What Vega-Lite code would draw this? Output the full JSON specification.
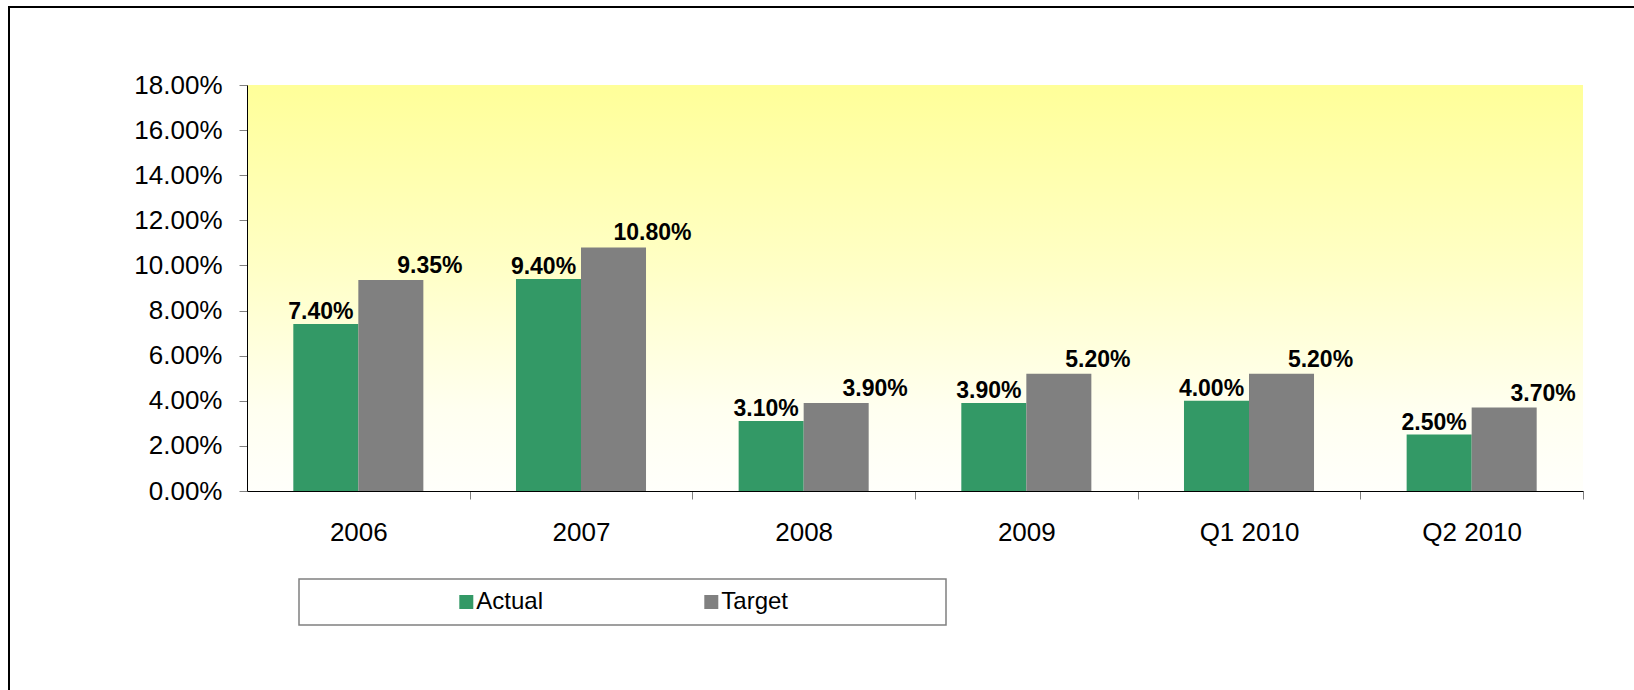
{
  "$schema": "https://vega.github.io/schema/vega-lite/v6.json",
  "width": 1635,
  "height": 693,
  "autosize": {"type": "none"},
  "padding": {"left": 9, "top": 7, "right": -10, "bottom": -10},
  "background": "white",
  "config": {
    "view": {"stroke": "black", "strokeWidth": 2, "fill": "white"},
    "font": "Liberation Sans",
    "legend": {"strokeColor": "#808080", "strokeWidth": 1.5, "fillColor": "white", "padding": 11}
  },
  "data": {
    "values": [
      {"period": "2006", "series": "Actual", "value": 0.074},
      {"period": "2006", "series": "Target", "value": 0.0935},
      {"period": "2007", "series": "Actual", "value": 0.094},
      {"period": "2007", "series": "Target", "value": 0.108},
      {"period": "2008", "series": "Actual", "value": 0.031},
      {"period": "2008", "series": "Target", "value": 0.039},
      {"period": "2009", "series": "Actual", "value": 0.039},
      {"period": "2009", "series": "Target", "value": 0.052},
      {"period": "Q1 2010", "series": "Actual", "value": 0.04},
      {"period": "Q1 2010", "series": "Target", "value": 0.052},
      {"period": "Q2 2010", "series": "Actual", "value": 0.025},
      {"period": "Q2 2010", "series": "Target", "value": 0.037}
    ]
  },
  "layer": [
    {
      "data": {"values": [{}]},
      "mark": {
        "type": "rect",
        "color": {
          "gradient": "linear",
          "x1": 0, "y1": 0, "x2": 0, "y2": 1,
          "stops": [
            {"offset": 0, "color": "#FFFF99"},
            {"offset": 0.45, "color": "#FFFFC6"},
            {"offset": 0.8, "color": "#FFFFF0"},
            {"offset": 1, "color": "#FFFFFB"}
          ]
        }
      },
      "encoding": {
        "x": {"datum": 0, "type": "quantitative", "scale": {"domain": [0, 1], "range": [238, 1574]}, "axis": null},
        "x2": {"datum": 1},
        "y": {"datum": 0, "type": "quantitative"},
        "y2": {"datum": 0.18}
      }
    },
    {
      "encoding": {
        "x": {
          "field": "period",
          "type": "nominal",
          "sort": ["2006", "2007", "2008", "2009", "Q1 2010", "Q2 2010"],
          "scale": {"range": [238, 1574], "paddingInner": 0.416, "paddingOuter": 0.208},
          "axis": {
            "title": null,
            "orient": "bottom",
            "offset": -209,
            "bandPosition": 1,
            "tickOffset": 46.3,
            "labelOffset": -46.3,
            "tickSize": 8,
            "tickColor": "#808080",
            "domainColor": "black",
            "labelFont": "Liberation Sans",
            "labelFontSize": 26,
            "labelColor": "black",
            "labelPadding": 20,
            "labelAngle": 0,
            "grid": false,
            "zindex": 1
          }
        },
        "xOffset": {"field": "series", "type": "nominal", "scale": {"domain": ["Actual", "Target"]}},
        "y": {
          "field": "value",
          "type": "quantitative",
          "scale": {"domain": [0, 0.18], "range": [484, 78], "nice": false},
          "axis": {
            "title": null,
            "offset": -238,
            "values": [0, 0.02, 0.04, 0.06, 0.08, 0.1, 0.12, 0.14, 0.16, 0.18],
            "format": ".2%",
            "tickSize": 8,
            "tickColor": "#808080",
            "domainColor": "black",
            "labelFont": "Liberation Sans",
            "labelFontSize": 26,
            "labelColor": "black",
            "labelPadding": 17,
            "grid": false,
            "zindex": 1
          }
        }
      },
      "layer": [
        {
          "mark": {"type": "bar"},
          "encoding": {
            "color": {
              "field": "series",
              "type": "nominal",
              "scale": {"domain": ["Actual", "Target"], "range": ["#339966", "#808080"]},
              "legend": {
                "orient": "none",
                "legendX": 290,
                "legendY": 572,
                "direction": "horizontal",
                "title": null,
                "symbolType": "square",
                "symbolSize": 196,
                "symbolStrokeWidth": 0,
                "symbolOffset": 144.3,
                "labelOffset": -2,
                "columnPadding": 11,
                "labelFont": "Liberation Sans",
                "labelFontSize": 24,
                "labelColor": "black",
                "labelLimit": 500,
                "labelExpr": "datum.label === 'Target' ? 'Target\u00a0\u00a0\u00a0\u00a0\u00a0\u00a0\u00a0\u00a0\u00a0\u00a0\u00a0\u00a0\u00a0\u00a0\u00a0\u00a0\u00a0\u00a0\u00a0\u00a0\u00a0\u00a0\u200b' : datum.label"
              }
            }
          }
        },
        {
          "transform": [{"filter": "datum.series === 'Actual'"}],
          "mark": {"type": "text", "font": "Liberation Sans", "fontSize": 23, "fontWeight": "bold", "baseline": "alphabetic", "dx": -5, "dy": -5, "color": "black"},
          "encoding": {"text": {"field": "value", "type": "quantitative", "format": ".2%"}}
        },
        {
          "transform": [{"filter": "datum.series === 'Target'"}],
          "mark": {"type": "text", "font": "Liberation Sans", "fontSize": 23, "fontWeight": "bold", "baseline": "alphabetic", "dx": 39, "dy": -7, "color": "black"},
          "encoding": {"text": {"field": "value", "type": "quantitative", "format": ".2%"}}
        }
      ]
    }
  ],
  "resolve": {"scale": {"x": "independent"}}
}
